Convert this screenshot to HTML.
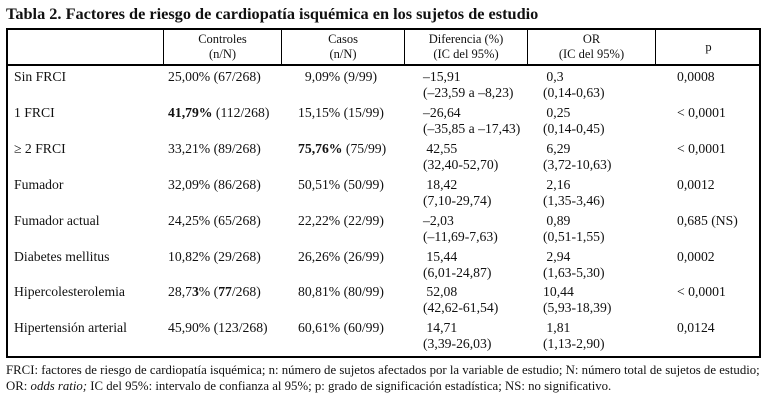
<!DOCTYPE html>
<html><head><meta charset="utf-8"><style>
html,body{margin:0;padding:0;background:#fff;}
body{width:767px;height:403px;position:relative;overflow:hidden;font-family:"Liberation Serif","DejaVu Serif",serif;color:#111;}
.t{position:absolute;white-space:nowrap;font-size:13.7px;line-height:16px;}
.h{position:absolute;font-size:12.5px;line-height:15px;text-align:center;white-space:nowrap;}
.ln{position:absolute;background:#000;}
</style></head><body>
<div class="t" style="left:6px;top:4px;font-weight:bold;font-size:16.3px;line-height:20px;">Tabla 2. Factores de riesgo de cardiopatía isquémica en los sujetos de estudio</div>
<div style="position:absolute;left:6px;top:28px;width:751px;height:326px;border:2px solid #000;"></div>
<div class="ln" style="left:6px;top:64px;width:755px;height:2px;"></div>
<div class="ln" style="left:163px;top:28px;width:1px;height:38px;"></div>
<div class="ln" style="left:281px;top:28px;width:1px;height:38px;"></div>
<div class="ln" style="left:404px;top:28px;width:1px;height:38px;"></div>
<div class="ln" style="left:527px;top:28px;width:1px;height:38px;"></div>
<div class="ln" style="left:655px;top:28px;width:1px;height:38px;"></div>
<div class="h" style="left:164px;width:117px;top:32px;">Controles<br>(n/N)</div>
<div class="h" style="left:282px;width:122px;top:32px;">Casos<br>(n/N)</div>
<div class="h" style="left:405px;width:122px;top:32px;">Diferencia (%)<br>(IC del 95%)</div>
<div class="h" style="left:528px;width:127px;top:32px;">OR<br>(IC del 95%)</div>
<div class="h" style="left:656px;width:105px;top:40px;">p</div>
<div id="rows"></div>
<div class="t" style="left:6px;top:362px;font-size:12.8px;line-height:16px;">FRCI: factores de riesgo de cardiopatía isquémica; n: número de sujetos afectados por la variable de estudio; N: número total de sujetos de estudio;<br>OR: <i>odds ratio;</i> IC del 95%: intervalo de confianza al 95%; p: grado de significación estadística; NS: no significativo.</div>
<script>
const labels=["Sin FRCI","1 FRCI","\u2265 2 FRCI","Fumador","Fumador actual","Diabetes mellitus","Hipercolesterolemia","Hipertensión arterial"];
const controles=["25,00% (67/268)","<b>41,79%</b> (112/268)","33,21% (89/268)","32,09% (86/268)","24,25% (65/268)","10,82% (29/268)","28,7<b>3</b>% (<b>77</b>/268)","45,90% (123/268)"];
const casos=["&nbsp;&nbsp;9,09% (9/99)","15,15% (15/99)","<b>75,76%</b> (75/99)","50,51% (50/99)","22,22% (22/99)","26,26% (26/99)","80,81% (80/99)","60,61% (60/99)"];
const dif=["\u201315,91","\u201326,64","&nbsp;42,55","&nbsp;18,42","\u20132,03","&nbsp;15,44","&nbsp;52,08","&nbsp;14,71"];
const difIC=["(\u201323,59 a \u20138,23)","(\u201335,85 a \u201317,43)","(32,40-52,70)","(7,10-29,74)","(\u201311,69-7,63)","(6,01-24,87)","(42,62-61,54)","(3,39-26,03)"];
const orv=["&nbsp;0,3","&nbsp;0,25","&nbsp;6,29","&nbsp;2,16","&nbsp;0,89","&nbsp;2,94","10,44","&nbsp;1,81"];
const orIC=["(0,14-0,63)","(0,14-0,45)","(3,72-10,63)","(1,35-3,46)","(0,51-1,55)","(1,63-5,30)","(5,93-18,39)","(1,13-2,90)"];
const pv=["0,0008","< 0,0001","< 0,0001","0,0012","0,685 (NS)","0,0002","< 0,0001","0,0124"];
const root=document.getElementById('rows');
function cell(x,y,html,name){const d=document.createElement('div');d.className='t';d.style.left=x+'px';d.style.top=y+'px';d.innerHTML=html;


root.appendChild(d);}
for(let i=0;i<labels.length;i++){
 const y=69+i*35.9;
 cell(14,y,labels[i],'row-label');
 cell(168,y,controles[i],'controles-cell');
 cell(298,y,casos[i],'casos-cell');
 cell(423,y,dif[i]+'<br>'+difIC[i],'diferencia-cell');
 cell(543,y,orv[i]+'<br>'+orIC[i],'or-cell');
 cell(677,y,pv[i],'p-cell');
}
</script>
</body></html>
